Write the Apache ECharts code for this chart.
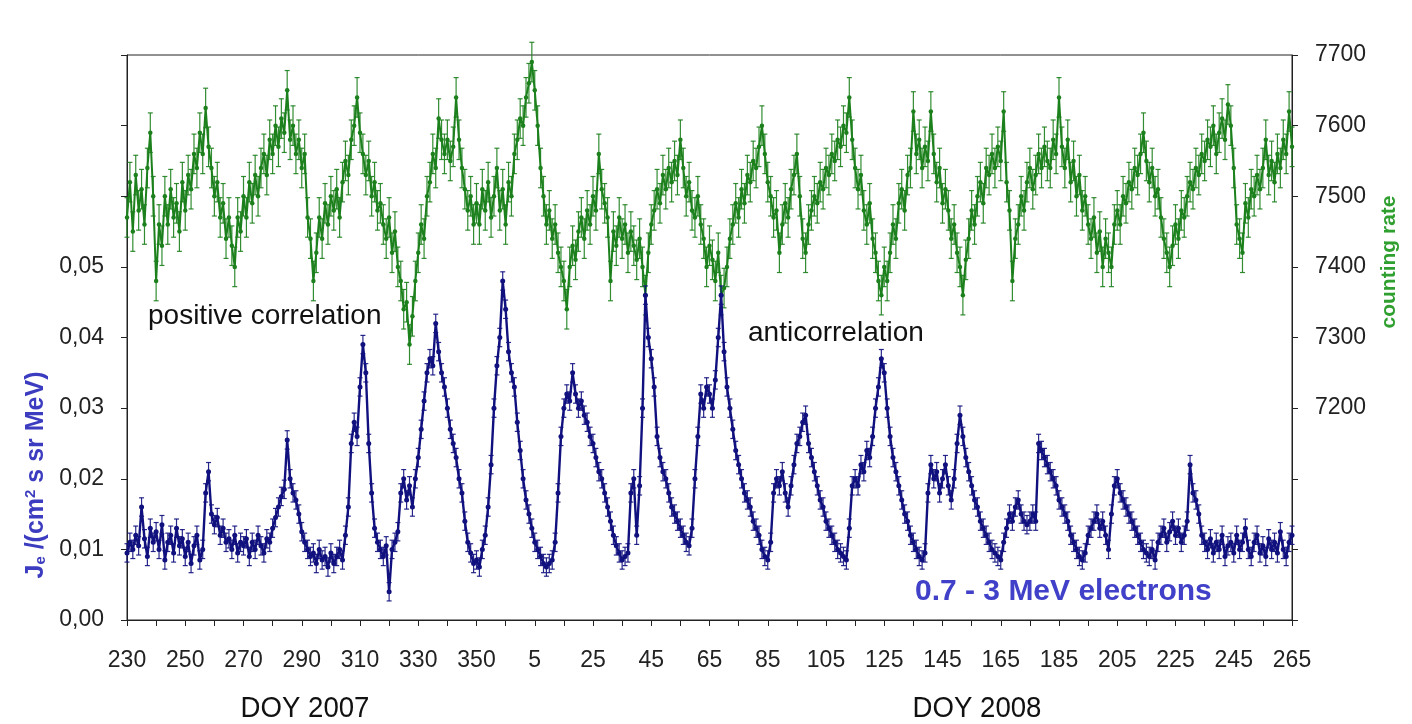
<!DOCTYPE html>
<html>
<head>
<meta charset="utf-8">
<script src="https://cdn.jsdelivr.net/npm/echarts@6/dist/echarts.min.js"></script>
<style>
html,body{margin:0;padding:0;background:#fff;}
#chart{width:1412px;height:724px;}
</style>
</head>
<body>
<div id="chart"></div>
<script>
// Day index: DOY of 2007 from 230; 2008 days continue as 365 + DOY
const startDay = 230;
const xTickLabels = ['230','250','270','290','310','330','350','5','25','45','65','85','105','125','145','165','185','205','225','245','265'];

// electron flux J_e (0.7 - 3 MeV), one value per day from day 230 (2007) to day 265 (2008)
const electronFlux = [
 .0095,.0110,.0100,.0120,.0105,.0160,.0115,.0090,.0130,.0110,
 .0125,.0100,.0135,.0085,.0110,.0120,.0095,.0130,.0105,.0115,
 .0090,.0110,.0080,.0105,.0120,.0085,.0100,.0180,.0210,.0150,
 .0135,.0145,.0120,.0130,.0110,.0115,.0100,.0120,.0095,.0110,
 .0105,.0115,.0090,.0110,.0100,.0120,.0105,.0095,.0115,.0110,
 .0130,.0145,.0160,.0175,.0185,.0255,.0200,.0180,.0170,.0150,
 .0125,.0110,.0100,.0090,.0095,.0080,.0100,.0085,.0090,.0075,
 .0095,.0080,.0090,.0100,.0085,.0120,.0160,.0250,.0280,.0260,
 .0330,.0390,.0350,.0250,.0180,.0130,.0110,.0100,.0090,.0105,
 .0040,.0100,.0110,.0125,.0180,.0200,.0170,.0190,.0160,.0200,
 .0230,.0270,.0310,.0350,.0370,.0360,.0420,.0380,.0350,.0330,
 .0300,.0270,.0250,.0230,.0200,.0180,.0140,.0110,.0095,.0080,
 .0085,.0075,.0100,.0120,.0160,.0220,.0300,.0360,.0400,.0480,
 .0440,.0380,.0350,.0330,.0280,.0240,.0200,.0170,.0150,.0130,
 .0110,.0100,.0090,.0080,.0075,.0080,.0085,.0110,.0180,.0260,
 .0300,.0320,.0310,.0350,.0320,.0300,.0310,.0290,.0280,.0260,
 .0250,.0230,.0210,.0200,.0180,.0160,.0140,.0120,.0105,.0095,
 .0085,.0090,.0095,.0180,.0200,.0120,.0190,.0300,.0460,.0400,
 .0370,.0330,.0260,.0230,.0210,.0200,.0180,.0160,.0150,.0140,
 .0130,.0120,.0110,.0105,.0130,.0200,.0260,.0320,.0300,.0330,
 .0320,.0300,.0340,.0400,.0460,.0380,.0330,.0300,.0270,.0240,
 .0220,.0200,.0180,.0170,.0160,.0140,.0130,.0120,.0100,.0090,
 .0085,.0110,.0180,.0200,.0190,.0210,.0180,.0160,.0190,.0220,
 .0250,.0260,.0280,.0290,.0250,.0230,.0210,.0190,.0170,.0160,
 .0140,.0130,.0120,.0110,.0100,.0095,.0090,.0085,.0130,.0190,
 .0200,.0190,.0220,.0210,.0240,.0230,.0260,.0300,.0330,.0370,
 .0350,.0300,.0260,.0230,.0210,.0190,.0170,.0150,.0140,.0120,
 .0110,.0100,.0090,.0085,.0095,.0180,.0220,.0200,.0210,.0180,
 .0200,.0220,.0190,.0170,.0200,.0250,.0290,.0260,.0230,.0210,
 .0190,.0170,.0160,.0140,.0130,.0120,.0110,.0100,.0095,.0090,
 .0085,.0110,.0130,.0150,.0140,.0160,.0170,.0150,.0140,.0135,
 .0140,.0150,.0140,.0250,.0240,.0230,.0220,.0210,.0200,.0190,
 .0170,.0160,.0150,.0140,.0120,.0110,.0100,.0090,.0085,.0095,
 .0120,.0130,.0140,.0150,.0130,.0140,.0120,.0100,.0150,.0190,
 .0200,.0180,.0170,.0160,.0150,.0140,.0130,.0120,.0110,.0100,
 .0095,.0090,.0100,.0085,.0110,.0120,.0130,.0110,.0125,.0140,
 .0120,.0130,.0110,.0120,.0140,.0220,.0180,.0170,.0150,.0120,
 .0110,.0100,.0115,.0095,.0110,.0100,.0120,.0090,.0105,.0110,
 .0095,.0120,.0100,.0110,.0130,.0100,.0090,.0110,.0120,.0095,
 .0105,.0090,.0115,.0100,.0110,.0095,.0125,.0100,.0090,.0110,.0120
];
const electronFluxError = 0.0013; // half-length of the error bars

// neutron monitor counting rate, one value per day, same days
const countingRate = [
 7470,7520,7450,7530,7480,7510,7460,7540,7590,7500,
 7380,7460,7430,7500,7460,7510,7470,7490,7450,7520,
 7480,7530,7510,7560,7540,7590,7560,7625,7570,7540,
 7500,7520,7470,7490,7440,7470,7430,7400,7470,7450,
 7500,7470,7520,7490,7530,7500,7540,7560,7530,7580,
 7560,7600,7570,7610,7590,7650,7580,7600,7560,7580,
 7540,7560,7470,7440,7380,7420,7470,7440,7490,7460,
 7500,7480,7510,7470,7520,7550,7530,7580,7600,7640,
 7590,7560,7530,7550,7500,7520,7480,7490,7460,7440,
 7470,7420,7450,7400,7380,7340,7350,7290,7330,7380,
 7420,7460,7440,7500,7520,7560,7540,7610,7580,7560,
 7580,7550,7570,7640,7580,7540,7510,7480,7500,7460,
 7490,7460,7510,7480,7520,7470,7500,7540,7480,7510,
 7460,7520,7500,7560,7580,7610,7600,7640,7660,7690,
 7650,7600,7540,7500,7460,7480,7440,7460,7420,7400,
 7380,7340,7400,7430,7410,7450,7470,7440,7480,7460,
 7500,7480,7560,7510,7490,7470,7380,7450,7430,7470,
 7440,7460,7420,7450,7430,7410,7440,7400,7360,7420,
 7460,7480,7510,7490,7530,7510,7540,7520,7550,7530,
 7580,7540,7500,7520,7480,7470,7500,7460,7440,7400,
 7430,7410,7380,7420,7360,7370,7400,7440,7460,7490,
 7470,7510,7490,7530,7520,7550,7540,7570,7600,7560,
 7520,7500,7470,7480,7420,7460,7490,7470,7510,7530,
 7560,7500,7440,7420,7460,7480,7500,7490,7520,7510,
 7540,7530,7560,7550,7580,7570,7600,7590,7640,7580,
 7540,7510,7530,7480,7460,7490,7440,7420,7380,7360,
 7400,7380,7420,7460,7440,7490,7510,7480,7530,7540,
 7620,7560,7580,7540,7570,7550,7620,7560,7520,7540,
 7490,7510,7480,7440,7460,7420,7400,7360,7410,7440,
 7480,7460,7500,7520,7490,7540,7530,7560,7540,7570,
 7550,7620,7520,7480,7380,7440,7460,7500,7480,7520,
 7540,7510,7530,7560,7540,7570,7550,7540,7580,7560,
 7640,7570,7540,7580,7520,7550,7500,7530,7480,7500,
 7460,7440,7470,7420,7450,7400,7440,7420,7400,7460,
 7480,7460,7500,7490,7520,7510,7540,7530,7560,7590,
 7550,7520,7540,7500,7510,7470,7440,7420,7400,7430,
 7460,7440,7480,7470,7500,7520,7510,7540,7530,7560,
 7550,7580,7570,7600,7560,7590,7610,7580,7630,7600,
 7540,7460,7440,7420,7490,7470,7510,7500,7530,7510,
 7540,7580,7530,7550,7520,7560,7540,7580,7560,7620,7570
];
const countingRateError = 28; // half-length of the error bars

const blueColor = '#10107e';
const greenColor = '#1c801c';
const sans = "'Liberation Sans',Arial,sans-serif";

const chart = echarts.init(document.getElementById('chart'), null, {renderer: 'canvas'});

const fluxData = electronFlux.map((v, i) => [startDay + i, v]);
const rateData = countingRate.map((v, i) => [startDay + i, v]);

function errorBars(color, err) {
  return function (params, api) {
    const x = api.value(0), v = api.value(1);
    const top = api.coord([x, v + err]);
    const bot = api.coord([x, v - err]);
    const cap = 2.5;
    const st = {stroke: color, lineWidth: 1.2, opacity: 0.9};
    return {type: 'group', children: [
      {type: 'line', shape: {x1: top[0], y1: top[1], x2: bot[0], y2: bot[1]}, style: st},
      {type: 'line', shape: {x1: top[0] - cap, y1: top[1], x2: top[0] + cap, y2: top[1]}, style: st},
      {type: 'line', shape: {x1: bot[0] - cap, y1: bot[1], x2: bot[0] + cap, y2: bot[1]}, style: st}
    ]};
  };
}

chart.setOption({
  animation: false,
  backgroundColor: '#ffffff',
  grid: {left: 127, right: 120, top: 55, bottom: 104, show: true, borderColor: '#222', borderWidth: 1, backgroundColor: 'transparent'},
  xAxis: {
    type: 'value', min: 230, max: 630, interval: 10,
    axisLine: {show: true, lineStyle: {color: '#222', width: 1}},
    axisTick: {show: true, inside: false, length: 6, lineStyle: {color: '#222'}},
    splitLine: {show: false},
    axisLabel: {
      margin: 29, color: '#222', fontFamily: sans, fontSize: 23,
      formatter: function (v) { const k = (v - 230) / 20; return Number.isInteger(k) ? xTickLabels[k] : ''; }
    }
  },
  yAxis: [
    {
      type: 'value', min: 0, max: 0.08, interval: 0.01, position: 'left',
      axisLine: {show: true, lineStyle: {color: '#222'}},
      axisTick: {show: true, length: 6, lineStyle: {color: '#222'}},
      splitLine: {show: false},
      axisLabel: {
        margin: 23, color: '#222', fontFamily: sans, fontSize: 23,
        formatter: function (v) { return v <= 0.0500001 ? v.toFixed(2).replace('.', ',') : ''; }
      }
    },
    {
      type: 'value', min: 6900, max: 7700, interval: 100, position: 'right',
      axisLine: {show: true, lineStyle: {color: '#222'}},
      axisTick: {show: true, length: 6, lineStyle: {color: '#222'}},
      splitLine: {show: false},
      axisLabel: {
        margin: 23, color: '#222', fontFamily: sans, fontSize: 23,
        formatter: function (v) { return v >= 7200 ? String(v) : ''; }
      }
    }
  ],
  series: [
    {
      name: 'counting rate errors', type: 'custom', yAxisIndex: 1, data: rateData,
      renderItem: errorBars(greenColor, countingRateError), silent: true, z: 1
    },
    {
      name: 'counting rate', type: 'line', yAxisIndex: 1, data: rateData,
      symbol: 'circle', symbolSize: 4.5, showSymbol: true,
      lineStyle: {color: greenColor, width: 2},
      itemStyle: {color: greenColor}, z: 2
    },
    {
      name: 'electron errors', type: 'custom', yAxisIndex: 0, data: fluxData,
      renderItem: errorBars(blueColor, electronFluxError), silent: true, z: 3
    },
    {
      name: 'electrons', type: 'line', yAxisIndex: 0, data: fluxData,
      symbol: 'circle', symbolSize: 5, showSymbol: true,
      lineStyle: {color: blueColor, width: 2.4},
      itemStyle: {color: blueColor}, z: 4
    }
  ],
  graphic: [
    {type: 'text', x: 36, y: 475, rotation: Math.PI / 2,
     style: {text: 'J{sub|e} /(cm{sup|2} s sr MeV)', align: 'center', verticalAlign: 'middle',
       font: 'bold 25px ' + sans, fill: '#3c3cc0',
       rich: {sub: {fontSize: 15, fontWeight: 'bold', fill: '#3c3cc0', verticalAlign: 'bottom', padding: [10, 0, 0, 0]},
              sup: {fontSize: 15, fontWeight: 'bold', fill: '#3c3cc0', verticalAlign: 'top', padding: [0, 0, 10, 0]}}}},
    {type: 'text', x: 1389, y: 262, rotation: Math.PI / 2,
     style: {text: 'counting rate', align: 'center', verticalAlign: 'middle', font: 'bold 21px ' + sans, fill: '#2f9f2f'}},
    {type: 'text', x: 148, y: 316,
     style: {text: 'positive correlation', align: 'left', verticalAlign: 'middle', font: '28px ' + sans, fill: '#111'}},
    {type: 'text', x: 748, y: 333,
     style: {text: 'anticorrelation', align: 'left', verticalAlign: 'middle', font: '28px ' + sans, fill: '#111'}},
    {type: 'text', x: 915, y: 592,
     style: {text: '0.7 - 3 MeV electrons', align: 'left', verticalAlign: 'middle', font: 'bold 30px ' + sans, fill: '#4040c8'}},
    {type: 'text', x: 305, y: 709, scaleX: 0.92,
     style: {text: 'DOY 2007', align: 'center', verticalAlign: 'middle', font: '30px ' + sans, fill: '#111'}},
    {type: 'text', x: 977, y: 709, scaleX: 0.92,
     style: {text: 'DOY 2008', align: 'center', verticalAlign: 'middle', font: '30px ' + sans, fill: '#111'}}
  ]
});
</script>
</body>
</html>
